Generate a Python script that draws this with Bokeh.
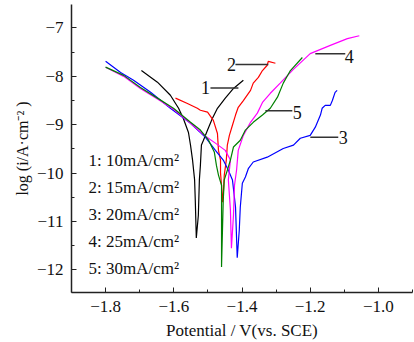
from bokeh.plotting import figure
from bokeh.models import FixedTicker, CustomJSTickFormatter, Range1d
from bokeh.core.properties import value
from bokeh.embed import file_html
from bokeh.resources import INLINE

# Curve 1: 10 mA/cm2 (black)
x1 = [-1.695, -1.648, -1.610, -1.586, -1.572, -1.557, -1.551, -1.545, -1.539, -1.537, -1.534,
      -1.528, -1.525, -1.522, -1.519, -1.513, -1.501, -1.487, -1.472, -1.449, -1.425, -1.396]
y1 = [-7.88, -8.12, -8.39, -8.66, -8.87, -9.16, -9.42, -9.73, -10.14, -10.56, -11.34,
      -10.87, -10.14, -9.84, -9.42, -9.32, -9.11, -8.87, -8.66, -8.45, -8.25, -8.08]

# Curve 2: 15 mA/cm2 (red)
x2 = [-1.595, -1.560, -1.531, -1.522, -1.501, -1.484, -1.472, -1.469, -1.463, -1.463, -1.460, -1.457,
      -1.455, -1.452, -1.446, -1.443, -1.437, -1.428, -1.419, -1.411, -1.396, -1.375, -1.367, -1.352,
      -1.340, -1.326, -1.323, -1.302]
y2 = [-8.45, -8.56, -8.66, -8.70, -8.74, -8.91, -9.18, -9.53, -9.73, -10.00, -10.25, -10.60,
      -10.45, -10.04, -9.73, -9.42, -9.22, -9.01, -8.80, -8.64, -8.50, -8.29, -8.14, -8.02,
      -7.88, -7.77, -7.69, -7.73]

# Curve 3: 20 mA/cm2 (blue)
x3 = [-1.800, -1.756, -1.718, -1.668, -1.610, -1.551, -1.507, -1.478, -1.455, -1.440, -1.428, -1.419, -1.414,
      -1.408, -1.405, -1.399, -1.390, -1.381, -1.367, -1.326, -1.279, -1.249, -1.229, -1.200, -1.185,
      -1.170, -1.165, -1.156, -1.141, -1.135, -1.127, -1.121]
y3 = [-7.69, -7.92, -8.08, -8.33, -8.66, -8.97, -9.26, -9.53, -9.73, -9.94, -10.14, -10.70, -11.75,
      -11.18, -10.70, -10.21, -10.08, -9.90, -9.77, -9.67, -9.49, -9.42, -9.28, -9.22, -9.05,
      -8.80, -8.66, -8.60, -8.60, -8.50, -8.33, -8.29]

# Curve 4: 25 mA/cm2 (magenta)
x4 = [-1.800, -1.747, -1.698, -1.648, -1.601, -1.551, -1.507, -1.478, -1.449, -1.434, -1.440, -1.434, -1.431,
      -1.425, -1.422, -1.416, -1.411, -1.396, -1.375, -1.355, -1.340, -1.317, -1.288, -1.250, -1.200,
      -1.141, -1.091, -1.056]
y4 = [-7.81, -8.00, -8.25, -8.47, -8.68, -8.97, -9.24, -9.38, -9.53, -9.73, -10.14, -10.76, -11.55,
      -10.87, -10.25, -9.94, -9.53, -9.22, -8.95, -8.76, -8.54, -8.35, -8.14, -7.86, -7.53,
      -7.36, -7.22, -7.16]

# Curve 5: 30 mA/cm2 (green)
x5 = [-1.800, -1.747, -1.698, -1.648, -1.601, -1.551, -1.522, -1.498, -1.481, -1.475, -1.469, -1.460, -1.460,
      -1.455, -1.452, -1.443, -1.434, -1.425, -1.405, -1.390, -1.367, -1.340, -1.317, -1.296, -1.279,
      -1.258, -1.223]
y5 = [-7.81, -7.98, -8.23, -8.45, -8.66, -8.95, -9.11, -9.32, -9.57, -9.84, -10.04, -10.25, -11.94,
      -10.56, -10.14, -9.94, -9.73, -9.46, -9.32, -9.11, -8.95, -8.80, -8.66, -8.43, -8.14,
      -7.88, -7.61]

series_x = [x1, x2, x3, x4, x5]
series_y = [y1, y2, y3, y4, y5]
colors = ["#000000", "#ff0000", "#0000ff", "#ff00ff", "#008000"]

legend_labels = ["1: 10mA/cm\u00b2", "2: 15mA/cm\u00b2", "3: 20mA/cm\u00b2",
                 "4: 25mA/cm\u00b2", "5: 30mA/cm\u00b2"]
curve_ids = ["1", "2", "3", "4", "5"]

x_ticks = [-1.8, -1.6, -1.4, -1.2, -1.0]
x_minor = [-1.9, -1.7, -1.5, -1.3, -1.1, -0.9]
y_ticks = [-7, -8, -9, -10, -11, -12]
y_minor = [-7.5, -8.5, -9.5, -10.5, -11.5, -12.5]

FONT = "Liberation Serif"

p = figure(width=414, height=342, output_backend="svg", toolbar_location=None,
           x_range=Range1d(-1.9, -0.9), y_range=Range1d(-12.467, -6.515),
           min_border_left=71, min_border_right=2, min_border_top=4, min_border_bottom=49)
p.outline_line_color = None
p.xgrid.visible = False
p.ygrid.visible = False
p.background_fill_color = "white"

for xs, ys, c in zip(series_x, series_y, colors):
    p.line(xs, ys, line_color=c, line_width=1.2)

# legend-like text block
leg_y = [-9.73, -10.29, -10.85, -11.41, -11.97]
p.text(x=[-1.85] * 5, y=leg_y, text=legend_labels, text_font=value(FONT),
       text_font_size="17px", text_baseline="middle", text_align="left", text_color="#111111")

# curve number labels with leader lines
seg_x0 = [-1.4925, -1.4193, -1.1997, -1.185, -1.3315]
seg_x1 = [-1.4105, -1.3227, -1.1177, -1.0972, -1.2524]
seg_y = [-8.24, -7.753, -9.258, -7.532, -8.711]
p.segment(x0=seg_x0, y0=seg_y, x1=seg_x1, y1=seg_y, line_color="#333333", line_width=1.5)
lab_x = [-1.507, -1.431, -1.103, -1.0855, -1.2378]
lab_y = [-8.23, -7.75, -9.26, -7.59, -8.74]
p.text(x=lab_x, y=lab_y, text=curve_ids, text_font=value(FONT), text_font_size="18px",
       text_baseline="middle", text_align="center", text_color="#111111")

for ax in (p.xaxis[0], p.yaxis[0]):
    ax.axis_line_width = 1.5
    ax.axis_line_color = "#222222"
    ax.major_tick_line_color = "#222222"
    ax.minor_tick_line_color = "#222222"
    ax.major_tick_in = 5
    ax.major_tick_out = 0
    ax.minor_tick_in = 3
    ax.minor_tick_out = 0
    ax.major_label_text_font = FONT
    ax.major_label_text_font_size = "17px"
    ax.major_label_text_color = "#111111"
    ax.axis_label_text_font = FONT
    ax.axis_label_text_font_style = "normal"
    ax.axis_label_text_color = "#111111"
    ax.major_label_standoff = 8

p.xaxis.ticker = FixedTicker(ticks=x_ticks, minor_ticks=x_minor)
p.yaxis.ticker = FixedTicker(ticks=y_ticks, minor_ticks=y_minor)
p.xaxis.formatter = CustomJSTickFormatter(code="return (tick < 0 ? '\\u2212' : '') + Math.abs(tick).toFixed(1);")
p.yaxis.formatter = CustomJSTickFormatter(code="return (tick < 0 ? '\\u2212' : '') + Math.abs(tick).toFixed(0);")
p.xaxis.axis_label = "Potential / V(vs. SCE)"
p.yaxis.axis_label = "log (i/A\u00b7cm\u207b\u00b2 )"
p.xaxis.axis_label_text_font_size = "17px"
p.yaxis.axis_label_text_font_size = "16px"
p.xaxis.axis_label_standoff = 6
p.yaxis.axis_label_standoff = 3

open("out.html", "w").write(file_html(p, INLINE))
